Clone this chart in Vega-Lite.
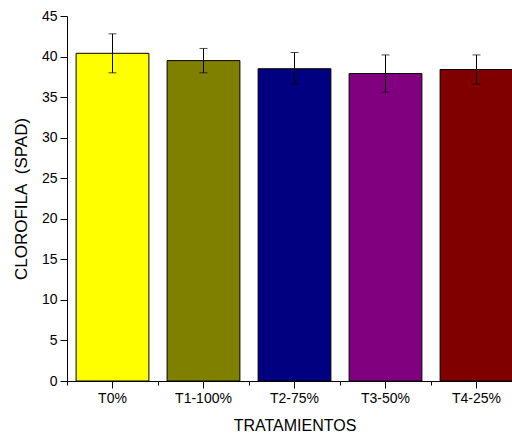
{
  "$schema": "https://vega.github.io/schema/vega-lite/v6.json",
  "autosize": "none",
  "width": 445,
  "height": 365,
  "padding": {"left": 67, "top": 16, "right": 0, "bottom": 52},
  "background": "white",
  "config": {
    "view": {"stroke": null},
    "font": "Liberation Sans",
    "axis": {"domainColor": "black", "tickColor": "black", "labelColor": "black", "titleColor": "black", "grid": false, "labelFont": "Liberation Sans", "titleFont": "Liberation Sans", "titleFontWeight": "normal"}
  },
  "data": {
    "values": [
      {"trat": "T0%", "value": 40.4, "low": 38.0, "high": 42.8, "color": "#FFFF00"},
      {"trat": "T1-100%", "value": 39.5, "low": 38.0, "high": 41.0, "color": "#808000"},
      {"trat": "T2-75%", "value": 38.5, "low": 36.6, "high": 40.5, "color": "#000080"},
      {"trat": "T3-50%", "value": 37.9, "low": 35.6, "high": 40.2, "color": "#800080"},
      {"trat": "T4-25%", "value": 38.4, "low": 36.6, "high": 40.2, "color": "#800000"}
    ]
  },
  "resolve": {"axis": {"x": "independent"}},
  "layer": [
    {
      "mark": {"type": "bar", "stroke": "black", "strokeWidth": 1, "width": {"band": 0.8}},
      "encoding": {
        "x": {
          "field": "trat", "type": "nominal", "sort": null,
          "scale": {"range": [0, 455], "paddingInner": 0, "paddingOuter": 0},
          "axis": {"orient": "bottom", "title": "TRATAMIENTOS", "labelAngle": 0, "labelFontSize": 14, "titleFontSize": 16, "tickSize": 7, "labelPadding": 3, "titlePadding": 12, "domainWidth": 1}
        },
        "y": {
          "field": "value", "type": "quantitative", "title": "CLOROFILA\u00a0\u00a0(SPAD)",
          "scale": {"domain": [0, 45], "nice": false, "zero": true},
          "axis": {
            "titleFontSize": 17, "labelFontSize": 14, "titlePadding": 11,
            "values": [0, 2.5, 5, 7.5, 10, 12.5, 15, 17.5, 20, 22.5, 25, 27.5, 30, 32.5, 35, 37.5, 40, 42.5, 45],
            "labelExpr": "datum.value % 5 === 0 ? datum.label : ''",
            "tickSize": {"condition": {"test": "datum.value % 5 === 0", "value": 7}, "value": 4},
            "labelPadding": 3
          }
        },
        "fill": {"field": "color", "type": "nominal", "scale": null}
      }
    },
    {
      "mark": {"type": "rule", "color": "black", "strokeWidth": 1},
      "encoding": {
        "x": {
          "field": "trat", "type": "nominal", "sort": null,
          "axis": {"orient": "bottom", "bandPosition": 0, "labels": false, "title": null, "domain": false, "tickSize": 4}
        },
        "y": {"field": "low", "type": "quantitative", "title": "CLOROFILA\u00a0\u00a0(SPAD)"},
        "y2": {"field": "high"}
      }
    },
    {
      "mark": {"type": "tick", "color": "black", "thickness": 1, "size": 8, "orient": "horizontal"},
      "encoding": {
        "x": {"field": "trat", "type": "nominal", "sort": null, "axis": null},
        "y": {"field": "low", "type": "quantitative", "title": "CLOROFILA\u00a0\u00a0(SPAD)"}
      }
    },
    {
      "mark": {"type": "tick", "color": "black", "thickness": 1, "size": 8, "orient": "horizontal"},
      "encoding": {
        "x": {"field": "trat", "type": "nominal", "sort": null, "axis": null},
        "y": {"field": "high", "type": "quantitative", "title": "CLOROFILA\u00a0\u00a0(SPAD)"}
      }
    }
  ]
}
